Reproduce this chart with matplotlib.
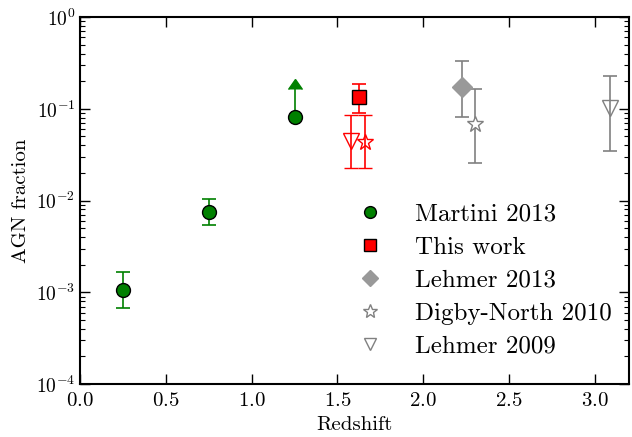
import numpy as np
import matplotlib
matplotlib.use("Agg")
import matplotlib.pyplot as plt

plt.rcParams['font.family'] = 'serif'
plt.rcParams['font.serif'] = ['cmr10']
plt.rcParams['mathtext.fontset'] = 'cm'
plt.rcParams['axes.formatter.use_mathtext'] = True
plt.rcParams['axes.unicode_minus'] = False

# Martini 2013
z_mart = [0.25, 0.75]
f_mart = [1.07e-3, 7.5e-3]
lo_mart = [6.8e-4, 5.4e-3]
hi_mart = [1.65e-3, 1.03e-2]
z_mart_lim = [1.25]
f_mart_lim = [0.082]
top_mart_lim = [0.165]

# This work
z_this = [1.625]
f_this = [0.133]
lo_this = [0.090]
hi_this = [0.188]

# This work, other samples (open red)
z_red_tri = [1.58]
f_red_tri = [0.0445]
z_red_star = [1.66]
f_red_star = [0.0435]
lo_red = [0.0224]
hi_red = [0.0855]

# Lehmer 2013
z_leh13 = [2.225]
f_leh13 = [0.172]
lo_leh13 = [0.081]
hi_leh13 = [0.33]

# Digby-North 2010
z_dn = [2.30]
f_dn = [0.069]
lo_dn = [0.0254]
hi_dn = [0.163]

# Lehmer 2009
z_leh09 = [3.09]
f_leh09 = [0.101]
lo_leh09 = [0.035]
hi_leh09 = [0.225]


def yerr(f, lo, hi):
    f = np.array(f); lo = np.array(lo); hi = np.array(hi)
    return [f - lo, hi - f]


fig = plt.figure(figsize=(6.32, 4.37), dpi=100)
ax = fig.add_axes([0.127, 0.121, 0.868, 0.840])

green = '#008000'
gray = '0.5'
eb = dict(capsize=5, elinewidth=1.2, capthick=1.2)

ax.errorbar(z_mart, f_mart, yerr=yerr(f_mart, lo_mart, hi_mart), fmt='none',
            ecolor=green, **eb)
ax.errorbar(z_mart_lim, f_mart_lim,
            yerr=[[0], [top_mart_lim[0] - f_mart_lim[0]]], lolims=True,
            fmt='none', ecolor=green, color=green, elinewidth=1.2, capsize=5)
ax.plot(z_mart + z_mart_lim, f_mart + f_mart_lim, 'o', color=green, mec='k',
        ms=10, label='Martini 2013', zorder=5)

ax.errorbar(z_this, f_this, yerr=yerr(f_this, lo_this, hi_this), fmt='none',
            ecolor='red', **eb)
ax.plot(z_this, f_this, 's', color='red', mec='k', ms=9.5, label='This work', zorder=5)

ax.errorbar(z_red_tri, f_red_tri, yerr=yerr(f_red_tri, lo_red, hi_red), fmt='v',
            mfc='none', mec='red', mew=1, ms=11, ecolor='red', **eb)
ax.errorbar(z_red_star, f_red_star, yerr=yerr(f_red_star, lo_red, hi_red), fmt='*',
            mfc='none', mec='red', mew=1, ms=12, ecolor='red', **eb)

ax.errorbar(z_leh13, f_leh13, yerr=yerr(f_leh13, lo_leh13, hi_leh13), fmt='none',
            ecolor=gray, **eb)
ax.plot(z_leh13, f_leh13, 'D', color='0.6', mec='0.6', ms=10, label='Lehmer 2013', zorder=5)

ax.errorbar(z_dn, f_dn, yerr=yerr(f_dn, lo_dn, hi_dn), fmt='none',
            ecolor=gray, **eb)
ax.plot(z_dn, f_dn, '*', mfc='white', mec=gray, mew=1, ms=12,
        label='Digby-North 2010', zorder=5)

ax.errorbar(z_leh09, f_leh09, yerr=yerr(f_leh09, lo_leh09, hi_leh09), fmt='none',
            ecolor=gray, **eb)
ax.plot(z_leh09, f_leh09, 'v', mfc='none', mec=gray, mew=1, ms=11,
        label='Lehmer 2009', zorder=5)

ax.set_yscale('log')
ax.set_xlim(0, 3.2)
ax.set_ylim(1e-4, 1)
ax.set_xlabel('Redshift', fontsize=15)
ax.set_ylabel('AGN fraction', fontsize=15, labelpad=4)
ax.tick_params(which='both', direction='in', top=True, right=True)
ax.tick_params(which='major', length=7, width=1)
ax.tick_params(which='minor', length=3.5, width=0.8)
ax.tick_params(axis='x', pad=6, labelsize=15)
ax.tick_params(axis='y', labelsize=14)
for s in ax.spines.values():
    s.set_linewidth(1.5)

ax.legend(loc='lower left', bbox_to_anchor=(0.441, 0.01), frameon=False,
          numpoints=1, fontsize=18, labelspacing=0.42, handletextpad=0.8,
          markerscale=0.85)

fig.savefig('out.png', dpi=100)
